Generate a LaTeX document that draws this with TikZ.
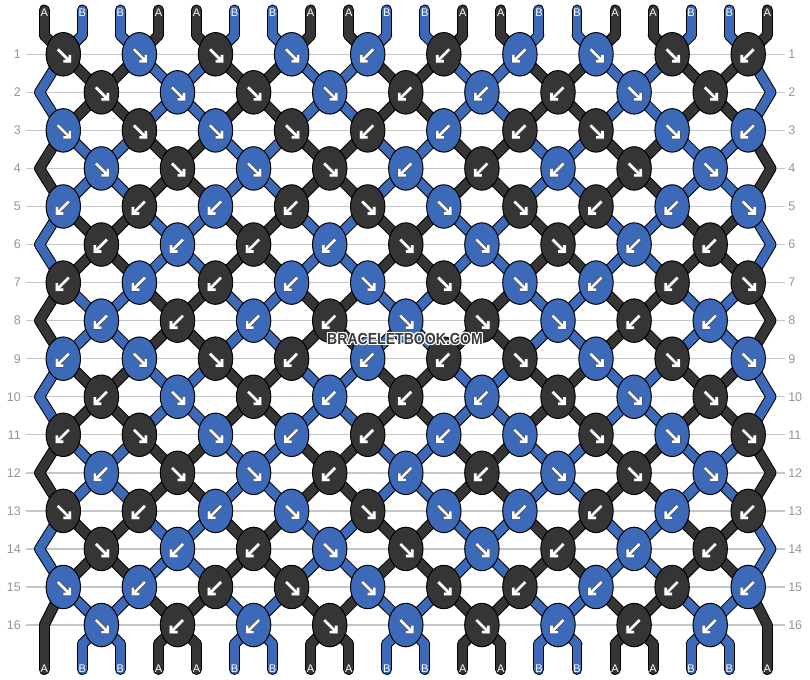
\documentclass[tikz,border=0pt]{standalone}
\usepackage{fontspec}
\setmainfont{Liberation Sans}
\usetikzlibrary{shapes.geometric}
\definecolor{strA}{HTML}{353535}
\definecolor{strB}{HTML}{3C6AB8}
\definecolor{gridc}{HTML}{C6C6C6}
\definecolor{numc}{HTML}{969696}
\definecolor{wmc}{HTML}{3C3C3C}
\pgfdeclarelayer{grid}
\pgfdeclarelayer{sback}
\pgfdeclarelayer{sfront}
\pgfsetlayers{grid,sback,sfront,main}

\def\initcols{A,B,B,A,A,B,B,A,A,B,B,A,A,B,B,A,A,B,B,A}
\newcommand\setdirs[2]{\expandafter\def\csname dirs#1\endcsname{#2}}
\setdirs{1}{F,F,F,F,B,B,B,F,F,B}
\setdirs{2}{F,F,F,F,B,B,B,F,F}
\setdirs{3}{F,F,F,F,B,B,B,F,F,B}
\setdirs{4}{F,F,F,F,B,B,B,F,F}
\setdirs{5}{B,B,B,B,F,F,F,B,B,F}
\setdirs{6}{B,B,B,B,F,F,F,B,B}
\setdirs{7}{B,B,B,B,F,F,F,B,B,F}
\setdirs{8}{B,B,B,B,F,F,F,B,B}
\setdirs{9}{B,F,F,B,B,B,F,F,F,F}
\setdirs{10}{B,F,F,B,B,B,F,F,F}
\setdirs{11}{B,F,F,B,B,B,F,F,F,F}
\setdirs{12}{B,F,F,B,B,B,F,F,F}
\setdirs{13}{F,B,B,F,F,F,B,B,B,B}
\setdirs{14}{F,B,B,F,F,F,B,B,B}
\setdirs{15}{F,B,B,F,F,F,B,B,B,B}
\setdirs{16}{F,B,B,F,F,F,B,B,B}

\global\let\onestrand\relax
\gdef\strandcalls{}
\newcommand\strandseg[3]{\xdef\strandcalls{\strandcalls\noexpand\onestrand{#1}{#2}{#3}}}

\newcommand\knotarrow[3]{%
 \if F#3
  \draw[arrshadow] ({#1-5.5},{#2-5}) -- ({#1+6.5},{#2+7}) ({#1+6.5},{#2+0.5}) -- ({#1+6.5},{#2+7}) -- ({#1},{#2+7});
  \draw[arrwhite] ({#1-5.5},{#2-5}) -- ({#1+6.5},{#2+7}) ({#1+6.5},{#2+0.5}) -- ({#1+6.5},{#2+7}) -- ({#1},{#2+7});
 \else
  \draw[arrshadow] ({#1+5.5},{#2-5}) -- ({#1-6.5},{#2+7}) ({#1-6.5},{#2+0.5}) -- ({#1-6.5},{#2+7}) -- ({#1},{#2+7});
  \draw[arrwhite] ({#1+5.5},{#2-5}) -- ({#1-6.5},{#2+7}) ({#1-6.5},{#2+0.5}) -- ({#1-6.5},{#2+7}) -- ({#1},{#2+7});
 \fi}

\begin{document}
\begin{tikzpicture}[x=0.75pt,y=-0.75pt,
 knot/.style={ellipse,draw=black,line width=0.75pt,minimum width=25.8pt,minimum height=32.6pt,inner sep=0pt},
 soutline/.style={draw=black,line width=8.2pt,line cap=round,line join=round},
 sinner/.style={line width=6.7pt,line cap=round,line join=round},
 arrshadow/.style={draw=black!70,line width=2.9pt,line join=miter,line cap=butt},
 arrwhite/.style={draw=white,line width=1.95pt,line join=miter,line cap=butt},
 rownum/.style={text=numc,font=\fontsize{9.4}{10}\selectfont,inner sep=0pt},
 strlabel/.style={text=white,font=\fontsize{8.3}{9}\selectfont,inner sep=0pt},
 wmk/.style={font=\bfseries\fontsize{12}{12}\selectfont,inner sep=0pt}]

\useasboundingbox (0,0) rectangle (810,680);
\begin{pgfonlayer}{grid}
\fill[white] (0,0) rectangle (810,680);
\foreach \rr in {1,...,16}{
 \pgfmathsetmacro\yy{54.3+38.05*(\rr-1)}
 \draw[gridc,line width=1pt] (26,\yy) -- (785,\yy);
 \node[rownum,anchor=east] (nl-\rr) at (21,\yy) {\rr};
 \node[rownum,anchor=west] (nr-\rr) at (788,\yy) {\rr};
}
\end{pgfonlayer}

% top string ends
\foreach \cc [count=\ii] in \initcols {
 \pgfmathsetmacro\xs{44.3+38.05*(\ii-1)}
 \coordinate (t-\ii) at (\xs,10);
 \coordinate (tb-\ii) at (\xs,35.3);
 \strandseg{t-\ii}{tb-\ii}{\cc}
 \node[strlabel] (lt-\ii) at (\xs,12.8) {\cc};
 \expandafter\xdef\csname col\ii\endcsname{\cc}
 \expandafter\xdef\csname src\ii\endcsname{tb-\ii}
}

% knots
\foreach \rr in {1,...,16}{
 \pgfmathsetmacro\yk{54.3+38.05*(\rr-1)}
 \pgfmathtruncatemacro\isodd{mod(\rr,2)}
 \edef\dl{\csname dirs\rr\endcsname}
 \ifnum\isodd=1 \def\xo{63.3}\else\def\xo{101.4}\fi
 \ifnum\isodd=0
  \ifnum\rr<16
   \edef\sa{\csname src1\endcsname}\edef\ca{\csname col1\endcsname}
   \coordinate (eL-\rr) at (39.5,\yk);
   \strandseg{\sa.center}{eL-\rr}{\ca}
   \expandafter\xdef\csname src1\endcsname{eL-\rr}
   \edef\sa{\csname src20\endcsname}\edef\ca{\csname col20\endcsname}
   \coordinate (eR-\rr) at (771,\yk);
   \strandseg{\sa.center}{eR-\rr}{\ca}
   \expandafter\xdef\csname src20\endcsname{eR-\rr}
  \fi
 \fi
 \foreach \dd [count=\k] in \dl {
  \pgfmathsetmacro\xk{\xo+76.1*(\k-1)}
  \ifnum\isodd=1 \pgfmathtruncatemacro\pp{2*\k-1}\else\pgfmathtruncatemacro\pp{2*\k}\fi
  \pgfmathtruncatemacro\qq{\pp+1}
  \edef\cL{\csname col\pp\endcsname}\edef\cR{\csname col\qq\endcsname}
  \edef\sL{\csname src\pp\endcsname}\edef\sR{\csname src\qq\endcsname}
  \if F\dd \edef\kc{\cL}\else\edef\kc{\cR}\fi
  \edef\tmpk{\noexpand\node[knot,fill=str\kc] (k-\rr-\k) at (\xk,\yk) {};}\tmpk
  \strandseg{\sL.center}{k-\rr-\k.center}{\cL}
  \strandseg{\sR.center}{k-\rr-\k.center}{\cR}
  \knotarrow{\xk}{\yk}{\dd}
  \expandafter\xdef\csname col\pp\endcsname{\cR}
  \expandafter\xdef\csname col\qq\endcsname{\cL}
  \expandafter\xdef\csname src\pp\endcsname{k-\rr-\k}
  \expandafter\xdef\csname src\qq\endcsname{k-\rr-\k}
 }
}

% bottom string ends
\foreach \ii in {1,...,20}{
 \pgfmathsetmacro\xs{44.3+38.05*(\ii-1)}
 \ifnum\ii=1 \def\by{625}\else\ifnum\ii=20 \def\by{625}\else\def\by{644}\fi\fi
 \edef\sa{\csname src\ii\endcsname}\edef\ca{\csname col\ii\endcsname}
 \coordinate (bb-\ii) at (\xs,\by);
 \coordinate (b-\ii) at (\xs,669.5);
 \strandseg{\sa.center}{bb-\ii}{\ca}
 \strandseg{bb-\ii}{b-\ii}{\ca}
 \node[strlabel] (lb-\ii) at (\xs,668.5) {\ca};
}

% strands, drawn behind the knots
\begin{pgfonlayer}{sback}
\def\onestrand#1#2#3{\draw[soutline] (#1) -- (#2);}
\strandcalls
\end{pgfonlayer}
\begin{pgfonlayer}{sfront}
\def\onestrand#1#2#3{\draw[sinner,draw=str#3] (#1) -- (#2);}
\strandcalls
\end{pgfonlayer}

% watermark
\foreach \dx/\dy [count=\w] in {1/0,-1/0,0/1,0/-1,1/1,1/-1,-1/1,-1/-1}{
 \node[wmk,text=white] (wh-\w) at ({405+(\dx)},{339+(\dy)}) {\scalebox{0.88}[1]{BRACELETBOOK.COM}};
}
\node[wmk,text=wmc] (wm) at (405,339) {\scalebox{0.88}[1]{BRACELETBOOK.COM}};
\end{tikzpicture}
\end{document}
